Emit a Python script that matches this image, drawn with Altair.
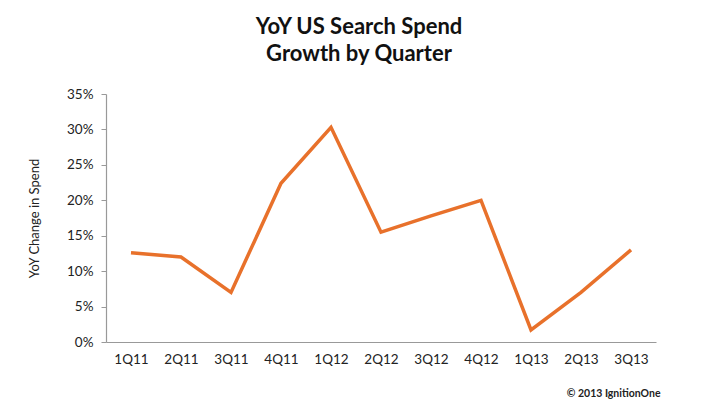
import altair as alt
import pandas as pd

quarters = ["1Q11", "2Q11", "3Q11", "4Q11", "1Q12", "2Q12", "3Q12", "4Q12", "1Q13", "2Q13", "3Q13"]
growth = [0.126, 0.120, 0.070, 0.224, 0.303, 0.155, 0.178, 0.200, 0.017, 0.070, 0.130]

df = pd.DataFrame({"quarter": quarters, "growth": growth})

FONT = "Lato"

chart = alt.Chart(df).mark_line(color="#E8712B", strokeWidth=3.5, strokeJoin="miter").encode(
    x=alt.X("quarter:N", sort=quarters, scale=alt.Scale(type="point", padding=0.5),
            axis=alt.Axis(title="© 2013 IgnitionOne", labelAngle=0, ticks=False,
                          labelPadding=10, labelFontSize=13.5, labelColor="#222",
                          labelFont=FONT, domainColor="#999", domainWidth=1.2,
                          titleFont=FONT, titleFontSize=10.5, titleFontWeight="bold",
                          titleColor="#222", titleAnchor="end", titleAlign="right",
                          titleX=554, titleY=56, titleBaseline="bottom")),
    y=alt.Y("growth:Q", scale=alt.Scale(domain=[0, 0.35]),
            axis=alt.Axis(format=".0%", values=[0, 0.05, 0.1, 0.15, 0.2, 0.25, 0.3, 0.35],
                          grid=False, tickSize=5, tickColor="#999", domainColor="#999",
                          domainWidth=1.2, labelPadding=8, labelFontSize=13.5,
                          labelColor="#222", labelFont=FONT,
                          title="YoY Change in Spend", titleFont=FONT, titleFontSize=13,
                          titleFontWeight="normal", titleColor="#222", titlePadding=25)),
).properties(
    width=550,
    height=248,
    background="white",
    autosize=alt.AutoSizeParams(type="none"),
    padding={"left": 98, "top": 86, "right": 55, "bottom": 66},
    title=alt.TitleParams(["YoY US Search Spend", "Growth by Quarter"], font=FONT,
                          fontSize=22, fontWeight="bold", color="#111", anchor="middle",
                          dx=-22, offset=21, lineHeight=27),
).configure_view(stroke="transparent", strokeWidth=0)

chart.save("out.html", embed_options={"renderer": "svg", "actions": False})
